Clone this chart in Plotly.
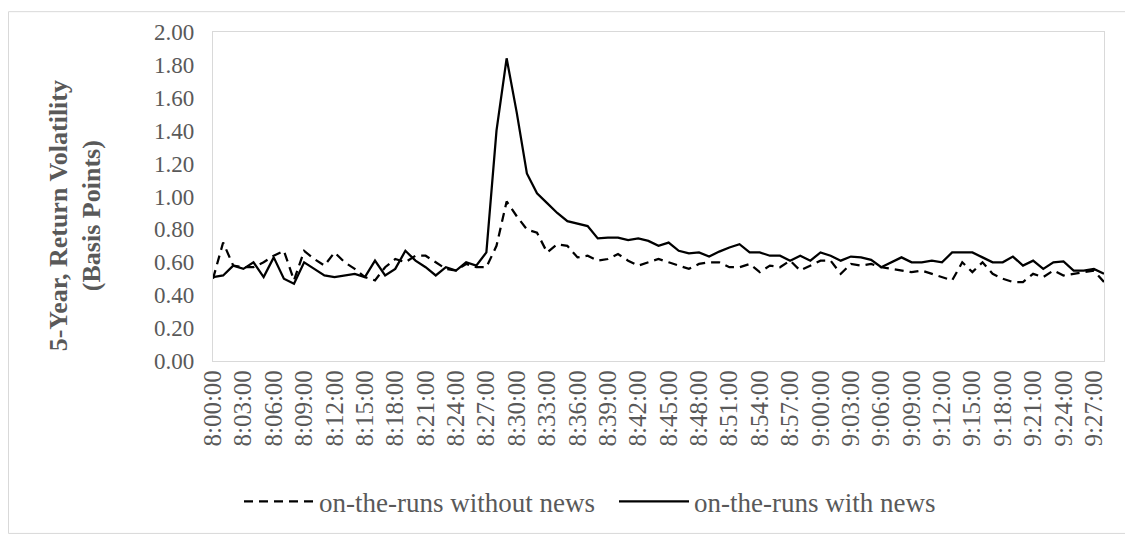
import plotly.graph_objects as go

times = [
    "8:00:00", "8:01:00", "8:02:00", "8:03:00", "8:04:00", "8:05:00", "8:06:00", "8:07:00", "8:08:00", "8:09:00",
    "8:10:00", "8:11:00", "8:12:00", "8:13:00", "8:14:00", "8:15:00", "8:16:00", "8:17:00", "8:18:00", "8:19:00",
    "8:20:00", "8:21:00", "8:22:00", "8:23:00", "8:24:00", "8:25:00", "8:26:00", "8:27:00", "8:28:00", "8:29:00",
    "8:30:00", "8:31:00", "8:32:00", "8:33:00", "8:34:00", "8:35:00", "8:36:00", "8:37:00", "8:38:00", "8:39:00",
    "8:40:00", "8:41:00", "8:42:00", "8:43:00", "8:44:00", "8:45:00", "8:46:00", "8:47:00", "8:48:00", "8:49:00",
    "8:50:00", "8:51:00", "8:52:00", "8:53:00", "8:54:00", "8:55:00", "8:56:00", "8:57:00", "8:58:00", "8:59:00",
    "9:00:00", "9:01:00", "9:02:00", "9:03:00", "9:04:00", "9:05:00", "9:06:00", "9:07:00", "9:08:00", "9:09:00",
    "9:10:00", "9:11:00", "9:12:00", "9:13:00", "9:14:00", "9:15:00", "9:16:00", "9:17:00", "9:18:00", "9:19:00",
    "9:20:00", "9:21:00", "9:22:00", "9:23:00", "9:24:00", "9:25:00", "9:26:00", "9:27:00", "9:28:00",
]

without_news = [
    0.50, 0.72, 0.58, 0.57, 0.57, 0.60, 0.64, 0.67, 0.49, 0.67,
    0.62, 0.58, 0.66, 0.60, 0.56, 0.51, 0.49, 0.57, 0.62, 0.60,
    0.64, 0.64, 0.60, 0.56, 0.55, 0.59, 0.57, 0.57, 0.70, 0.97,
    0.88, 0.80, 0.78, 0.66, 0.71, 0.70, 0.63, 0.64, 0.61, 0.62,
    0.65, 0.61, 0.58, 0.60, 0.62, 0.60, 0.58, 0.56, 0.59, 0.60,
    0.60, 0.57, 0.57, 0.59, 0.54, 0.58, 0.57, 0.61, 0.55, 0.58,
    0.61, 0.61, 0.53, 0.59, 0.58, 0.59, 0.57, 0.56, 0.55, 0.54,
    0.55, 0.53, 0.51, 0.49, 0.60, 0.54, 0.60, 0.53, 0.50, 0.48,
    0.48, 0.53, 0.51, 0.55, 0.52, 0.53, 0.54, 0.55, 0.48,
]

with_news = [
    0.51, 0.52, 0.58, 0.56, 0.60, 0.51, 0.63, 0.50, 0.47, 0.60,
    0.56, 0.52, 0.51, 0.52, 0.53, 0.51, 0.61, 0.52, 0.56, 0.67,
    0.61, 0.57, 0.52, 0.57, 0.55, 0.60, 0.58, 0.66, 1.40, 1.84,
    1.51, 1.14, 1.02, 0.96, 0.90, 0.85, 0.835, 0.82, 0.745, 0.75,
    0.75, 0.735, 0.745, 0.73, 0.70, 0.72, 0.67, 0.655, 0.66, 0.635,
    0.665, 0.69, 0.71, 0.66, 0.66, 0.64, 0.64, 0.61, 0.64, 0.61,
    0.66, 0.64, 0.61, 0.635, 0.63, 0.615, 0.57, 0.60, 0.63, 0.60,
    0.60, 0.61, 0.60, 0.66, 0.66, 0.66, 0.63, 0.60, 0.60, 0.635,
    0.58, 0.61, 0.56, 0.60, 0.605, 0.55, 0.55, 0.56, 0.53,
]

tick_labels = times[::3]
y_ticks = [0.0, 0.2, 0.4, 0.6, 0.8, 1.0, 1.2, 1.4, 1.6, 1.8, 2.0]

FONT = "Liberation Serif, Times New Roman, serif"
GRAY = "#595959"
BORDER = "#d9d9d9"

fig = go.Figure()
fig.add_trace(go.Scatter(
    x=times, y=without_news, mode="lines", name="on-the-runs without news",
    line=dict(color="black", width=2.25, dash="9px,6px"),
))
fig.add_trace(go.Scatter(
    x=times, y=with_news, mode="lines", name="on-the-runs with news",
    line=dict(color="black", width=2.25),
))

# the page body has an 8px default margin; lay out in page pixels and offset
OFF = 8
W, H = 1133 - OFF, 540 - OFF
PL, PR, PT, PB = 213, 1104, 29, 361  # plot area edges in page pixels
L, T = PL - OFF, PT - OFF
R = W - (PR - OFF)
B = H - (PB - OFF)
pw, ph = W - L - R, H - T - B


def px_x(x):
    return (x - OFF - L) / pw


def px_y(y):
    return (PB - y) / ph


fig.update_layout(
    width=W, height=H,
    margin=dict(l=L, r=R, t=T, b=B, pad=0),
    paper_bgcolor="white", plot_bgcolor="white",
    font=dict(family=FONT, color=GRAY, size=22),
    showlegend=True,
    legend=dict(
        orientation="h", x=px_x(239), y=px_y(503), xanchor="left", yanchor="middle",
        font=dict(family=FONT, size=27, color=GRAY),
        itemwidth=70, entrywidth=290, entrywidthmode="pixels",
        bgcolor="rgba(0,0,0,0)",
    ),
    xaxis=dict(
        type="category", categoryorder="array", categoryarray=times,
        tickmode="array", tickvals=tick_labels, ticktext=tick_labels,
        tickangle=-90, showgrid=False, zeroline=False,
        showline=True, linecolor=BORDER, linewidth=1.3, mirror=True,
        ticks="", ticklabelstandoff=-2,
        tickfont=dict(family=FONT, size=25, color=GRAY),
    ),
    yaxis=dict(
        range=[0, 2.0], tickmode="array", tickvals=y_ticks, tickformat=".2f",
        showgrid=False, zeroline=False,
        showline=True, linecolor=BORDER, linewidth=1.3, mirror=True,
        ticks="", ticklabelstandoff=13,
        tickfont=dict(family=FONT, size=23, color=GRAY),
    ),
    annotations=[dict(
        text="<b>5-Year, Return Volatility</b><br><b>(Basis Points)</b>",
        xref="paper", yref="paper", x=px_x(75), y=px_y(215),
        xanchor="center", yanchor="middle", textangle=-90, showarrow=False,
        font=dict(family=FONT, size=26, color=GRAY),
    )],
    shapes=[dict(
        type="rect", xref="paper", yref="paper",
        x0=px_x(8.5), x1=px_x(1126), y0=px_y(535), y1=px_y(8.5),
        line=dict(color=BORDER, width=1), fillcolor="rgba(0,0,0,0)", layer="below",
    )],
)

fig.write_html("out.html")
